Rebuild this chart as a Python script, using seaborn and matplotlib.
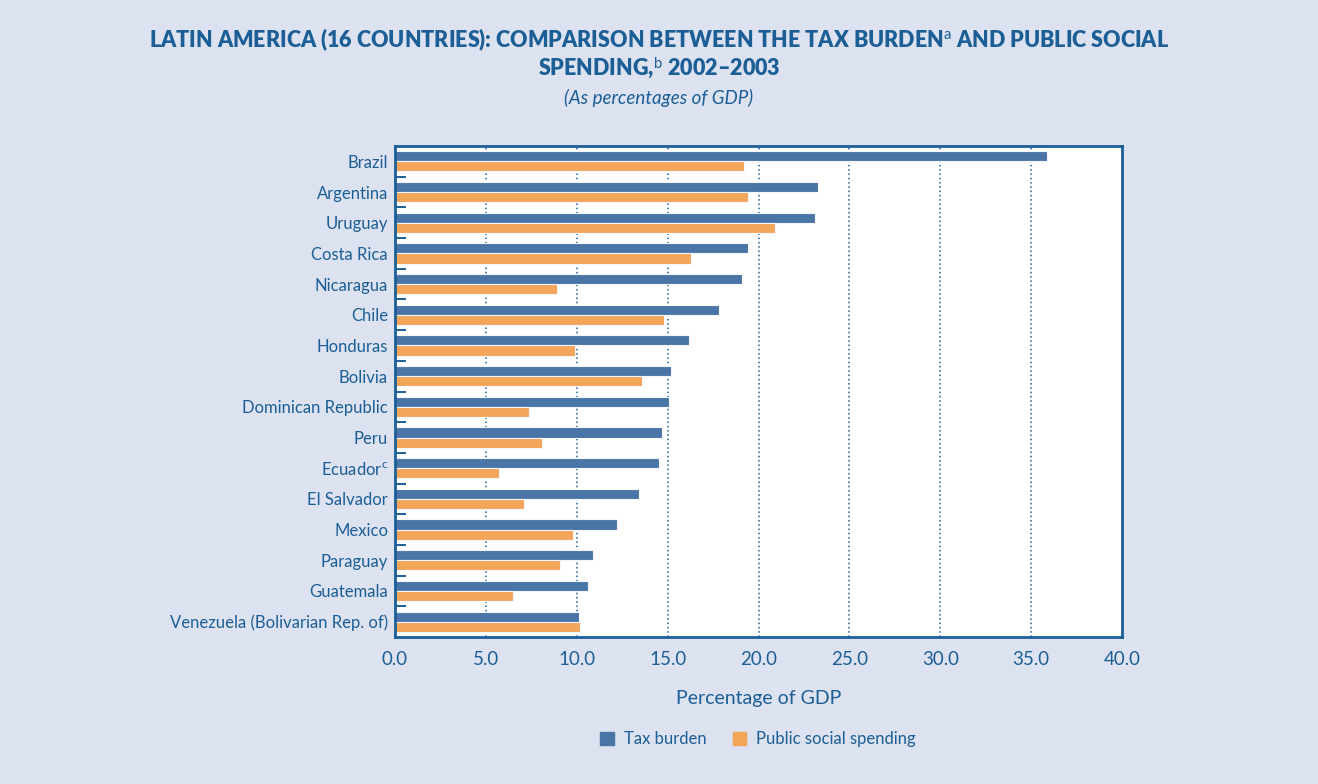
import matplotlib
matplotlib.use("Agg")
import matplotlib.pyplot as plt
import numpy as np
import pandas as pd
import seaborn as sns
from matplotlib.ticker import FixedLocator, FormatStrFormatter

countries = [
    "Brazil", "Argentina", "Uruguay", "Costa Rica", "Nicaragua", "Chile",
    "Honduras", "Bolivia", "Dominican Republic", "Peru", "Ecuador$^{\\mathrm{c}}$",
    "El Salvador", "Mexico", "Paraguay", "Guatemala",
    "Venezuela (Bolivarian Rep. of)",
]
tax_burden = [35.9, 23.3, 23.1, 19.4, 19.1, 17.8, 16.2, 15.2, 15.1, 14.7,
              14.5, 13.4, 12.2, 10.9, 10.6, 10.1]
social_spending = [19.2, 19.4, 20.9, 16.3, 8.9, 14.8, 9.9, 13.6, 7.4, 8.1,
                   5.7, 7.1, 9.8, 9.1, 6.5, 10.2]
series_names = ["Tax burden", "Public social spending"]
x_ticks = [0, 5, 10, 15, 20, 25, 30, 35, 40]

BG = "#DCE2EF"
INK = "#1C5E96"
TAX = "#4A75A7"
SPEND = "#F3A55A"

sns.set_theme(style="white")
plt.rcParams["font.family"] = ["Lato", "DejaVu Sans"]
plt.rcParams["mathtext.fontset"] = "custom"
plt.rcParams["mathtext.rm"] = "Lato"
plt.rcParams["mathtext.it"] = "Lato:italic"
plt.rcParams["mathtext.bf"] = "Lato:bold"

df = pd.DataFrame({
    "country": countries * 2,
    "value": tax_burden + social_spending,
    "series": [series_names[0]] * len(countries) + [series_names[1]] * len(countries),
})

fig = plt.figure(figsize=(13.18, 7.84), dpi=100)
fig.patch.set_facecolor(BG)
ax = fig.add_axes([395 / 1318, 1 - 637 / 784, (1122 - 395) / 1318, (637 - 146) / 784])
ax.set_facecolor("white")

sns.barplot(
    data=df, y="country", x="value", hue="series", orient="h",
    palette=[TAX, SPEND], width=0.66, dodge=True, ax=ax,
    edgecolor="#F4F6FA", linewidth=0.8, saturation=1, legend=False,
)

ax.set_xlim(0, 40)
ax.set_ylim(len(countries) - 0.5, -0.5)
ax.xaxis.set_major_locator(FixedLocator(x_ticks))
ax.xaxis.set_major_formatter(FormatStrFormatter("%.1f"))
for v in x_ticks[1:-1]:
    ax.axvline(v, color=INK, linestyle=(0, (1, 1.8)), linewidth=1.1, zorder=0)

# tick marks sit on the category boundaries, labels on the centres
ax.yaxis.set_minor_locator(FixedLocator(np.arange(0.5, len(countries) - 0.5, 1)))
ax.tick_params(axis="y", which="minor", direction="in", length=8, width=1.4,
               color=INK, left=True)
ax.tick_params(axis="y", which="major", length=0, pad=5, labelsize=12,
               labelcolor=INK)
ax.tick_params(axis="x", which="major", length=0, pad=10, labelsize=13.5,
               labelcolor=INK)

for side in ["top", "right", "bottom", "left"]:
    ax.spines[side].set_visible(True)
    ax.spines[side].set_color(INK)
    ax.spines[side].set_linewidth(2.0)

ax.set_ylabel("")
ax.set_xlabel("Percentage of GDP", color=INK, fontsize=14, labelpad=16)

handles = [plt.Rectangle((0, 0), 1, 1, color=c) for c in (TAX, SPEND)]
fig.legend(handles, series_names, loc="center", bbox_to_anchor=(758 / 1318, 1 - 739 / 784),
           ncol=2, frameon=False, fontsize=12, labelcolor=INK,
           handlelength=0.8, handleheight=0.8, handletextpad=0.6, columnspacing=1.6)

fig.text(0.5, 1 - 40 / 784,
         "LATIN AMERICA (16 COUNTRIES): COMPARISON BETWEEN THE TAX BURDEN$^{\\mathrm{a}}$ AND PUBLIC SOCIAL",
         ha="center", va="center", color=INK, fontsize=15.5, fontweight="heavy")
fig.text(0.5, 1 - 68 / 784, "SPENDING,$^{\\mathrm{b}}$ 2002\u20132003",
         ha="center", va="center", color=INK, fontsize=15.5, fontweight="heavy")
fig.text(0.5, 1 - 98 / 784, "(As percentages of GDP)",
         ha="center", va="center", color=INK, fontsize=13.5, style="italic")

fig.savefig("out.png", dpi=100, facecolor=BG)
